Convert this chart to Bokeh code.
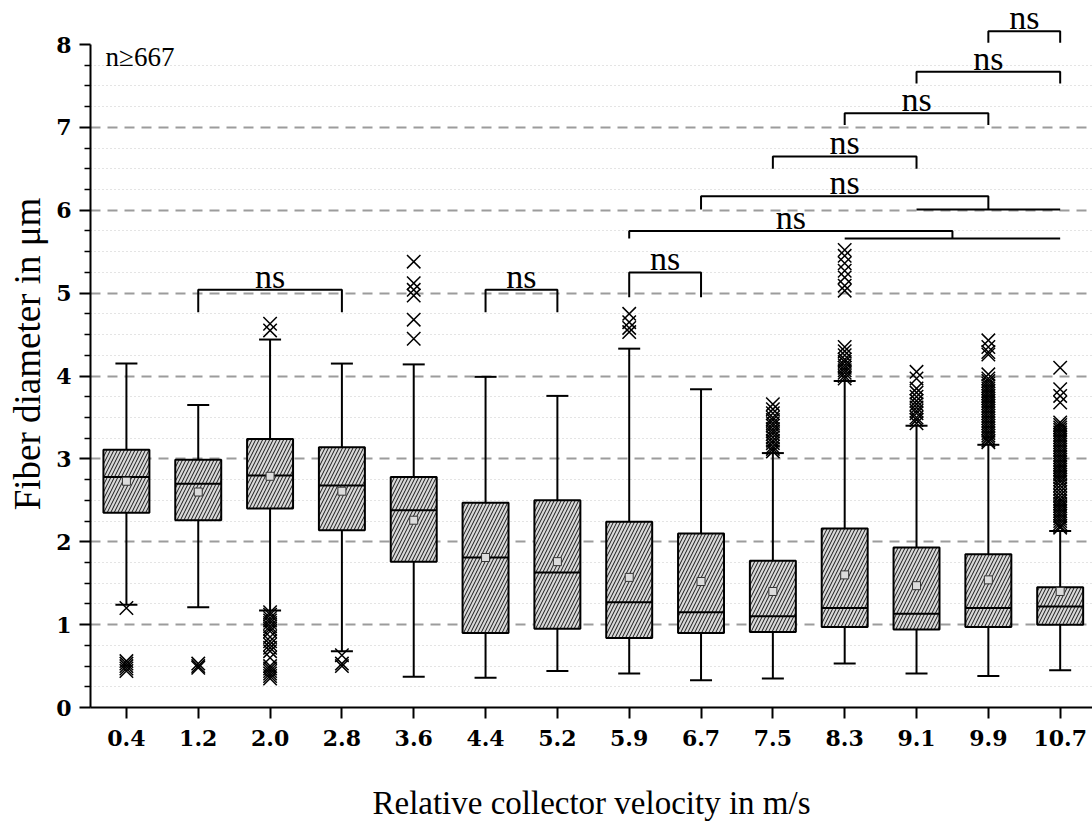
import numpy as np
from bokeh.plotting import figure
from bokeh.models import Range1d, FixedTicker, Label
from bokeh.embed import file_html
from bokeh.resources import INLINE
from bokeh.core.properties import value

# ---------------- data ----------------
categories = ["0.4", "1.2", "2.0", "2.8", "3.6", "4.4", "5.2",
              "5.9", "6.7", "7.5", "8.3", "9.1", "9.9", "10.7"]
upper_whisker = [4.15, 3.65, 4.44, 4.15, 4.14, 3.99, 3.76, 4.33, 3.84, 3.07, 3.94, 3.40, 3.17, 2.13]
q3            = [3.11, 2.99, 3.24, 3.14, 2.78, 2.47, 2.50, 2.24, 2.10, 1.77, 2.16, 1.93, 1.85, 1.45]
median        = [2.78, 2.70, 2.80, 2.68, 2.38, 1.81, 1.63, 1.27, 1.15, 1.10, 1.20, 1.13, 1.20, 1.22]
mean          = [2.73, 2.60, 2.79, 2.61, 2.26, 1.81, 1.76, 1.57, 1.52, 1.40, 1.60, 1.47, 1.54, 1.40]
q1            = [2.35, 2.26, 2.40, 2.14, 1.76, 0.90, 0.95, 0.84, 0.90, 0.91, 0.97, 0.94, 0.97, 1.00]
lower_whisker = [1.24, 1.21, 1.17, 0.68, 0.37, 0.36, 0.44, 0.41, 0.33, 0.35, 0.53, 0.41, 0.38, 0.45]

outliers = {
    "0.4": [1.20, 0.56, 0.53, 0.50, 0.47, 0.44],
    "1.2": [0.53, 0.50, 0.48],
    "2.0": [4.63, 4.55, 1.15, 1.12, 1.08, 1.05, 1.02, 0.98, 0.95, 0.92, 0.85, 0.80,
            0.76, 0.72, 0.68, 0.60, 0.50, 0.47, 0.44, 0.41, 0.38, 0.35],
    "2.8": [0.63, 0.53, 0.50],
    "3.6": [5.38, 5.12, 5.04, 4.97, 4.68, 4.45],
    "4.4": [],
    "5.2": [],
    "5.9": [4.75, 4.65, 4.58, 4.53],
    "6.7": [],
    "7.5": [3.66, 3.60, 3.55, 3.50, 3.47, 3.43, 3.40, 3.36, 3.33, 3.30, 3.26, 3.22,
            3.19, 3.15, 3.12, 3.09],
    "8.3": [5.52, 5.45, 5.36, 5.27, 5.19, 5.09, 5.03, 4.35, 4.30, 4.25, 4.20, 4.17,
            4.13, 4.10, 4.07, 4.04, 4.00, 3.97],
    "9.1": [4.05, 3.97, 3.85, 3.80, 3.75, 3.70, 3.66, 3.62, 3.58, 3.55, 3.50, 3.47, 3.43],
    "9.9": [4.43, 4.35, 4.29, 4.26, 4.02, 3.97, 3.94, 3.91, 3.88, 3.85, 3.82, 3.79,
            3.76, 3.73, 3.70, 3.67, 3.64, 3.61, 3.58, 3.55, 3.52, 3.49, 3.46, 3.43,
            3.40, 3.37, 3.34, 3.31, 3.28, 3.25, 3.22, 3.20],
    "10.7": [4.10, 3.84, 3.76, 3.68, 3.44, 3.41, 3.38, 3.35, 3.32, 3.29, 3.26, 3.23,
             3.20, 3.17, 3.14, 3.11, 3.08, 3.05, 3.02, 2.99, 2.96, 2.93, 2.90, 2.87,
             2.84, 2.81, 2.78, 2.75, 2.72, 2.68, 2.64, 2.60, 2.56, 2.52, 2.49, 2.46,
             2.43, 2.40, 2.37, 2.34, 2.31, 2.28, 2.25, 2.22, 2.19, 2.17],
}

# significance brackets (category index positions, y in µm)
bracket_left  = [1, 5, 7, 7, 8, 9, 10, 11, 12]
bracket_right = [3, 6, 8, 11.5, 12, 11, 12, 13, 13]
bracket_top   = [5.04, 5.04, 5.25, 5.75, 6.17, 6.65, 7.17, 7.67, 8.16]
bracket_leg   = [4.77, 4.77, 4.95, 5.66, 6.01, 6.50, 7.03, 7.53, 8.02]
bracket_text  = ["ns"] * 9
group_left  = [10, 11]
group_right = [13, 13]
group_y     = [5.66, 6.01]

y_ticks = [0, 1, 2, 3, 4, 5, 6, 7, 8]
n_text = "n≥667"

# ---------------- figure ----------------
SERIF = "Liberation Serif"
TICKFONT = "DejaVu Serif"
pos = np.arange(len(categories), dtype=float)
box_w = 0.64

p = figure(width=1092, height=828, output_backend="svg", toolbar_location=None,
           x_range=Range1d(-0.5, 13.45), y_range=Range1d(0, 8.531),
           min_border_left=90, min_border_right=0, min_border_top=0,
           min_border_bottom=121)
p.outline_line_color = None
p.background_fill_color = "white"
p.border_fill_color = "white"

# axes
p.xaxis.ticker = FixedTicker(ticks=list(pos))
p.xaxis.major_label_overrides = {i: c for i, c in enumerate(categories)}
minor = [t + f for t in y_ticks[:-1] for f in (0.25, 0.5, 0.75)]
p.yaxis.ticker = FixedTicker(ticks=y_ticks, minor_ticks=minor)
p.yaxis.bounds = (0, 8)

for ax in (p.xaxis[0], p.yaxis[0]):
    ax.axis_line_width = 2
    ax.axis_line_color = "black"
    ax.major_tick_line_width = 2
    ax.major_tick_line_color = "black"
    ax.major_tick_out = 11
    ax.major_tick_in = 0
    ax.major_label_text_font = TICKFONT
    ax.major_label_text_font_style = "bold"
    ax.major_label_text_font_size = "22px"
    ax.major_label_text_color = "black"
    ax.axis_label_text_font = SERIF
    ax.axis_label_text_font_style = "normal"
    ax.axis_label_text_color = "black"

p.xaxis.minor_tick_line_color = None
p.xaxis.major_label_standoff = 11
p.xaxis.axis_label = "Relative collector velocity in m/s"
p.xaxis.axis_label_text_font_size = "33px"
p.xaxis.axis_label_standoff = 36

p.yaxis.minor_tick_line_width = 1.5
p.yaxis.minor_tick_line_color = "black"
p.yaxis.minor_tick_out = 6
p.yaxis.minor_tick_in = 0
p.yaxis.major_label_standoff = 8
p.yaxis.axis_label = "Fiber diameter in μm"
p.yaxis.axis_label_text_font_size = "37px"
p.yaxis.axis_label_standoff = 5

# grid
p.xgrid.visible = False
p.ygrid.ticker = FixedTicker(ticks=y_ticks[1:-1], minor_ticks=minor)
p.ygrid.grid_line_color = "#9c9c9c"
p.ygrid.grid_line_width = 2
p.ygrid.grid_line_dash = "10 7"
p.ygrid.minor_grid_line_color = "#c8c8c8"
p.ygrid.minor_grid_line_width = 1
p.ygrid.minor_grid_line_dash = "1 3"

# whiskers
p.segment(x0=pos, y0=q3, x1=pos, y1=upper_whisker, line_color="black", line_width=2)
p.segment(x0=pos, y0=q1, x1=pos, y1=lower_whisker, line_color="black", line_width=2)
p.scatter(x=pos, y=upper_whisker, marker="dash", size=22, line_color="black", line_width=2)
p.scatter(x=pos, y=lower_whisker, marker="dash", size=22, line_color="black", line_width=2)

# boxes
p.vbar(x=pos, width=box_w, bottom=q1, top=q3, fill_color="#d8d8d8",
       line_color="black", line_width=2, hatch_pattern="/", hatch_color="black",
       hatch_scale=7, hatch_weight=0.9)
p.segment(x0=pos - box_w / 2, y0=median, x1=pos + box_w / 2, y1=median,
          line_color="black", line_width=2)
p.scatter(x=pos, y=mean, marker="square", size=8, fill_color="#dcdcdc",
          line_color="#333333", line_width=1)

# outliers
ox, oy = [], []
for i, c in enumerate(categories):
    for v in outliers[c]:
        ox.append(i)
        oy.append(v)
p.scatter(x=ox, y=oy, marker="x", size=19, line_color="black", line_width=1.5)

# significance brackets
bx = [[l, l, r, r] for l, r in zip(bracket_left, bracket_right)]
by = [[lg, t, t, lg] for lg, t in zip(bracket_leg, bracket_top)]
p.multi_line(xs=bx, ys=by, line_color="black", line_width=2)
p.segment(x0=group_left, y0=group_y, x1=group_right, y1=group_y,
          line_color="black", line_width=2)
tx = [(l + r) / 2 for l, r in zip(bracket_left, bracket_right)]
p.text(x=tx, y=bracket_top, text=bracket_text, text_font=value(SERIF),
       text_font_size=value("34px"), text_align="center",
       text_baseline="bottom", text_color="black", y_offset=5)

p.add_layout(Label(x=-0.29, y=7.73, text=n_text, text_font=SERIF,
                   text_font_size="27px", text_baseline="bottom",
                   text_color="black", y_offset=-5))

with open("out.html", "w", encoding="utf-8") as f:
    f.write(file_html(p, INLINE, "Fiber diameter"))
